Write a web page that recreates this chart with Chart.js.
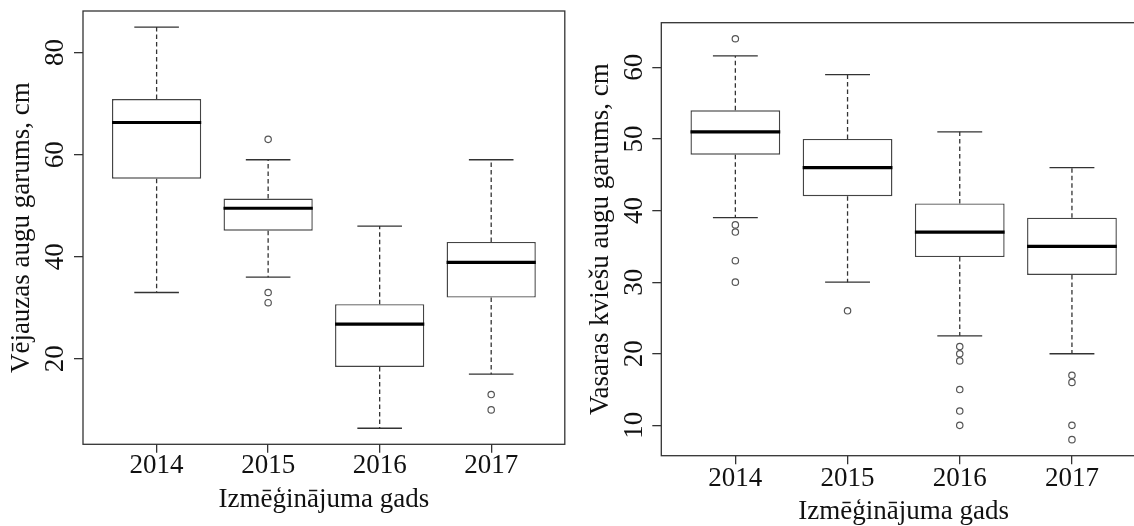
<!DOCTYPE html>
<html>
<head>
<meta charset="utf-8">
<script src="https://cdn.jsdelivr.net/npm/chart.js@4.4.1/dist/chart.umd.min.js"></script>
<style>
  html, body { margin: 0; padding: 0; background: #fff; overflow: hidden; width: 1134px; height: 526px; }
  canvas { position: absolute; top: 0; }
  #oat { left: 0; }
  #wheat { left: 570px; }
</style>
</head>
<body>
<canvas id="oat" width="570" height="526"></canvas>
<canvas id="wheat" width="600" height="540"></canvas>
<script>
// Trial years (categories)
const years = ['2014', '2015', '2016', '2017'];

// Vējauza: five-number summaries per year and outliers
const oatLow    = [33.0, 36.0, 6.4, 17.0];
const oatQ1     = [55.3, 45.1, 18.4, 32.0];
const oatMedian = [66.3, 49.5, 26.8, 38.9];
const oatQ3     = [70.9, 51.4, 30.7, 42.9];
const oatHigh   = [85.0, 59.0, 46.0, 59.0];
const oatOutliers = [[], [63, 33, 31], [], [13, 10]];
const oatTicks = [20, 40, 60, 80];

// Vasaras kvieši: five-number summaries per year and outliers
const wheatLow    = [39.0, 30.0, 22.5, 20.0];
const wheatQ1     = [47.8, 42.0, 33.5, 31.0];
const wheatMedian = [51.0, 46.0, 37.0, 35.0];
const wheatQ3     = [54.0, 50.0, 41.0, 39.0];
const wheatHigh   = [61.6, 59.0, 51.0, 46.0];
const wheatOutliers = [[64, 38, 37, 33, 30], [26], [21, 20, 19, 15, 12, 10], [17, 16, 10, 8]];
const wheatTicks = [10, 20, 30, 40, 50, 60];

const FONT = '"Liberation Serif", "Times New Roman", Times, serif';
const INK = '#111';
const LINE = '#333';
const BOX_HALF = 0.4;     // half of box width, in category units
const STAPLE_HALF = 0.2;  // half of whisker cap width

Chart.defaults.font.family = FONT;
Chart.defaults.color = INK;

// Full rectangle around the plotting region
const framePlugin = {
  id: 'frame',
  afterDraw(chart) {
    const { ctx, chartArea: a } = chart;
    ctx.save();
    ctx.strokeStyle = LINE;
    ctx.lineWidth = 1.3;
    ctx.strokeRect(a.left, a.top, a.right - a.left, a.bottom - a.top);
    ctx.restore();
  }
};

// Value-axis labels written parallel to the axis
function rotatedYLabels(baselineX) {
  return {
    id: 'rotatedYLabels',
    afterDraw(chart) {
      const { ctx } = chart;
      const sc = chart.scales.y;
      ctx.save();
      ctx.font = '27px ' + FONT;
      ctx.fillStyle = INK;
      ctx.textAlign = 'center';
      ctx.textBaseline = 'alphabetic';
      sc.ticks.forEach(t => {
        const py = sc.getPixelForValue(t.value);
        ctx.save();
        ctx.translate(baselineX, py);
        ctx.rotate(-Math.PI / 2);
        ctx.fillText(String(t.value), 0, 0);
        ctx.restore();
      });
      ctx.restore();
    }
  };
}

function makeBoxChart(id, s, yTitle, tickValues, L) {
  const pos = years.map((_, i) => i + 1);

  const boxes = pos.map((x, i) => ({ x, y: [s.q1[i], s.q3[i]] }));
  const whiskers = [], caps = [], medians = [];
  pos.forEach((x, i) => {
    whiskers.push({ x, y: s.q3[i] }, { x, y: s.high[i] }, { x, y: null },
                  { x, y: s.q1[i] }, { x, y: s.low[i] }, { x, y: null });
    caps.push({ x: x - STAPLE_HALF, y: s.high[i] }, { x: x + STAPLE_HALF, y: s.high[i] }, { x, y: null },
              { x: x - STAPLE_HALF, y: s.low[i] }, { x: x + STAPLE_HALF, y: s.low[i] }, { x, y: null });
    medians.push({ x: x - BOX_HALF, y: s.median[i] }, { x: x + BOX_HALF, y: s.median[i] }, { x, y: null });
  });
  const outliers = s.out.flatMap((vals, i) => vals.map(v => ({ x: i + 1, y: v })));

  // value range padded by 4% on each side
  const extremes = [...s.low, ...s.high, ...s.out.flat()];
  const lo = Math.min(...extremes), hi = Math.max(...extremes);
  const pad = (hi - lo) * 0.04;
  const xPad = years.length * 0.04;

  return new Chart(document.getElementById(id), {
    type: 'bar',
    data: {
      datasets: [
        { type: 'scatter', data: outliers, order: 0,
          pointRadius: 3.2, pointBorderWidth: 1.2, pointBorderColor: '#555',
          pointBackgroundColor: 'rgba(255,255,255,0)' },
        { type: 'line', data: medians, order: 1, borderColor: '#000', borderWidth: 3.2,
          pointRadius: 0, spanGaps: false },
        { type: 'line', data: caps, order: 2, borderColor: LINE, borderWidth: 1.3,
          pointRadius: 0, spanGaps: false },
        { type: 'line', data: whiskers, order: 3, borderColor: LINE, borderWidth: 1.3,
          borderDash: [4.5, 3], pointRadius: 0, spanGaps: false },
        { type: 'bar', data: boxes, order: 4, backgroundColor: '#fff', borderColor: '#444',
          borderWidth: 1.4, borderSkipped: false, barPercentage: 0.8, categoryPercentage: 1.0 }
      ]
    },
    options: {
      responsive: false,
      animation: false,
      devicePixelRatio: 1,
      events: [],
      layout: { padding: { left: 0, top: L.top, right: L.canvasW - L.right, bottom: 0 } },
      plugins: { legend: { display: false }, tooltip: { enabled: false } },
      scales: {
        x: {
          type: 'linear',
          offset: false,
          min: 0.5 - xPad,
          max: years.length + 0.5 + xPad,
          afterBuildTicks: sc => { sc.ticks = pos.map(v => ({ value: v })); },
          afterFit: sc => { sc.height = L.canvasH - L.bottom; },
          grid: { display: true, offset: false, drawOnChartArea: false, drawTicks: true,
                  tickLength: L.xTick, color: LINE, lineWidth: 1.3 },
          border: { display: false },
          ticks: { autoSkip: false, maxRotation: 0, minRotation: 0, padding: L.xTickPad,
                   color: INK, font: { size: 27, lineHeight: 1 },
                   callback: (v, i) => years[i] },
          title: { display: true, text: 'Izmēģinājuma gads', color: INK,
                   font: { size: 27, lineHeight: 1 }, padding: { top: 0, bottom: L.xTitlePad } }
        },
        y: {
          type: 'linear',
          min: lo - pad,
          max: hi + pad,
          afterBuildTicks: sc => { sc.ticks = tickValues.map(v => ({ value: v })); },
          afterFit: sc => { sc.width = L.left; },
          grid: { display: true, drawOnChartArea: false, drawTicks: true, tickLength: 9,
                  color: LINE, lineWidth: 1.3 },
          border: { display: false },
          ticks: { display: false },
          title: { display: true, text: yTitle, color: INK,
                   font: { size: 27, lineHeight: 1 }, padding: { top: L.yTitlePad, bottom: 0 } }
        }
      }
    },
    plugins: [framePlugin, rotatedYLabels(L.yLabelX)]
  });
}

makeBoxChart('oat',
  { low: oatLow, q1: oatQ1, median: oatMedian, q3: oatQ3, high: oatHigh, out: oatOutliers },
  'Vējauzas augu garums, cm', oatTicks,
  { canvasW: 570, canvasH: 526, left: 83, right: 568, top: 11, bottom: 444.3,
    xTick: 8.4, xTickPad: 0.2, xTitlePad: 12.6, yTitlePad: 8.7, yLabelX: 63.4 });

makeBoxChart('wheat',
  { low: wheatLow, q1: wheatQ1, median: wheatMedian, q3: wheatQ3, high: wheatHigh, out: wheatOutliers },
  'Vasaras kviešu augu garums, cm', wheatTicks,
  { canvasW: 600, canvasH: 540, left: 91.3, right: 576, top: 22.7, bottom: 455.7,
    xTick: 8.6, xTickPad: 0.8, xTitlePad: 14.6, yTitlePad: 17, yLabelX: 71.7 });
</script>
</body>
</html>
